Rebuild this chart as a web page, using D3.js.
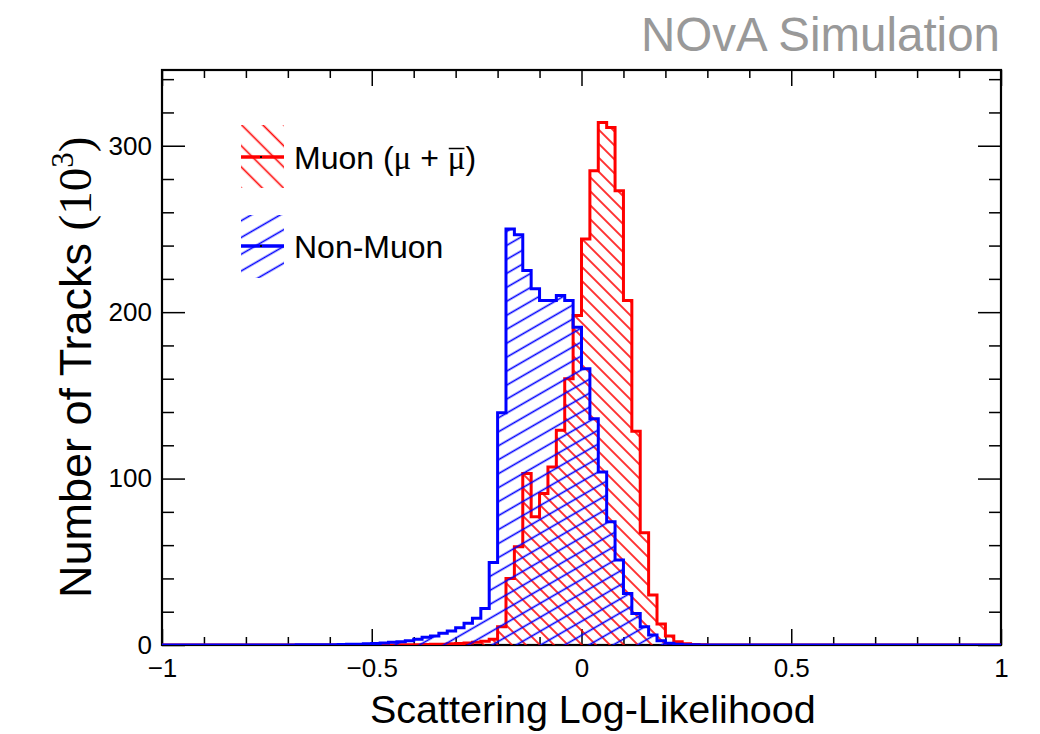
<!DOCTYPE html>
<html lang="en">
<head>
<meta charset="UTF-8">
<title>NOvA Simulation - Scattering Log-Likelihood</title>
<script src="https://d3js.org/d3.v7.min.js"></script>
<style>
  body { margin: 0; background: #fff; }
  svg { display: block; font-family: "Liberation Sans", Arial, sans-serif; }
</style>
</head>
<body>
<svg id="chart" width="1040" height="734"></svg>
<script>
// histogram: 100 bins of width 0.02 from -1 to 1 (values in 10^3 tracks)
const xMin = -1, xMax = 1, nBins = 100;

const muon = [
  0, 0, 0, 0, 0, 0, 0, 0, 0, 0,
  0, 0, 0, 0, 0, 0, 0, 0, 0, 0,
  0, 0, 0, 0, 0, 0, 0, 0, 0.1, 0.15,
  0.2, 0.3, 0.4, 0.5, 0.7, 0.9, 1.2, 1.6, 2.2, 3.4,
  11, 40, 59, 103, 77, 91, 107, 129, 160, 198,
  244, 285, 314, 311, 273, 207, 128.5, 67.5, 30, 12.6,
  5.4, 2, 0.8, 0.3, 0.1, 0, 0, 0, 0, 0,
  0, 0, 0, 0, 0, 0, 0, 0, 0, 0,
  0, 0, 0, 0, 0, 0, 0, 0, 0, 0,
  0, 0, 0, 0, 0, 0, 0, 0, 0, 0
];

const nonMuon = [
  0, 0, 0, 0, 0, 0, 0, 0, 0, 0,
  0.05, 0.05, 0.05, 0.05, 0.05, 0.05, 0.08, 0.1, 0.12, 0.15,
  0.2, 0.3, 0.4, 0.5, 0.7, 0.9, 1.2, 1.6, 2.0, 2.6,
  3.4, 4.6, 5.4, 7, 8.4, 10.4, 13, 16, 22, 49.5,
  139.5, 250, 246.5, 225, 214, 207, 207, 210, 207, 191,
  166, 136, 104, 74, 51, 31, 19, 11, 6, 2.6,
  1.0, 0.5, 0.2, 0.1, 0, 0, 0, 0, 0, 0,
  0, 0, 0, 0, 0, 0, 0, 0, 0, 0,
  0, 0, 0, 0, 0, 0, 0, 0, 0, 0,
  0, 0, 0, 0, 0, 0, 0, 0, 0, 0
];

const xMajor = [-1, -0.5, 0, 0.5, 1];
const xMajorLabels = ["\u22121", "\u22120.5", "0", "0.5", "1"];
const yMajor = [0, 100, 200, 300];
const yMajorLabels = ["0", "100", "200", "300"];
const yTop = 345.5;

const svg = d3.select("#chart");

const x = d3.scaleLinear().domain([xMin, xMax]).range([162, 1001]);
const y = d3.scaleLinear().domain([0, yTop]).range([645, 70]);
const binW = (xMax - xMin) / nBins;

// hatch patterns
const defs = svg.append("defs");
function hatch(id, color, angle, gap) {
    const p = defs.append("pattern")
        .attr("id", id)
        .attr("patternUnits", "userSpaceOnUse")
        .attr("width", 20).attr("height", gap)
        .attr("patternTransform", `rotate(${angle})`);
    p.append("line")
        .attr("x1", 0).attr("x2", 20)
        .attr("y1", gap / 2).attr("y2", gap / 2)
        .attr("stroke", color).attr("stroke-width", 1.6);
}
hatch("hatchRed", "#ff0000", 45, 9.9);
hatch("hatchBlue", "#0000ff", -30, 12.1);
hatch("legRed", "#ff0000", 45, 15);
hatch("legBlue", "#0000ff", -30, 14.5);

// frame and ticks first, histograms on top (ROOT order)
const axes = svg.append("g").attr("font-size", 26);
const xMinor = d3.range(-10, 11).map(k => k / 10).filter(v => !xMajor.includes(v));
const yMinor = d3.range(0, 18).map(k => k * 20).filter(v => !yMajor.includes(v));

function styleAxis(g) {
    g.select(".domain").remove();
    g.selectAll(".tick line").attr("stroke", "#000").attr("stroke-width", 1.5);
    g.selectAll("text").attr("fill", "#000").attr("font-size", 26)
        .attr("font-family", '"Liberation Sans", Arial, sans-serif');
}

axes.append("g").attr("transform", `translate(0,${y(0)})`)
    .call(d3.axisBottom(x).tickValues(xMajor).tickSize(-16).tickPadding(14)
        .tickFormat((d, i) => xMajorLabels[i]))
    .call(styleAxis);
axes.append("g").attr("transform", `translate(0,${y(0)})`)
    .call(d3.axisBottom(x).tickValues(xMinor).tickSize(-8).tickFormat(""))
    .call(styleAxis);
axes.append("g").attr("transform", `translate(0,${y(yTop)})`)
    .call(d3.axisTop(x).tickValues(xMajor).tickSize(-16).tickFormat(""))
    .call(styleAxis);
axes.append("g").attr("transform", `translate(0,${y(yTop)})`)
    .call(d3.axisTop(x).tickValues(xMinor).tickSize(-8).tickFormat(""))
    .call(styleAxis);

axes.append("g").attr("transform", `translate(${x(xMin)},0)`)
    .call(d3.axisLeft(y).tickValues(yMajor).tickSize(-23).tickPadding(10)
        .tickFormat((d, i) => yMajorLabels[i]))
    .call(styleAxis);
axes.append("g").attr("transform", `translate(${x(xMin)},0)`)
    .call(d3.axisLeft(y).tickValues(yMinor).tickSize(-12).tickFormat(""))
    .call(styleAxis);
axes.append("g").attr("transform", `translate(${x(xMax)},0)`)
    .call(d3.axisRight(y).tickValues(yMajor).tickSize(-23).tickFormat(""))
    .call(styleAxis);
axes.append("g").attr("transform", `translate(${x(xMax)},0)`)
    .call(d3.axisRight(y).tickValues(yMinor).tickSize(-12).tickFormat(""))
    .call(styleAxis);

svg.append("rect")
    .attr("x", x(xMin)).attr("y", y(yTop))
    .attr("width", x(xMax) - x(xMin)).attr("height", y(0) - y(yTop))
    .attr("fill", "none").attr("stroke", "#000").attr("stroke-width", 2.2);

defs.append("clipPath").attr("id", "frameClip")
    .append("rect")
    .attr("x", x(xMin)).attr("y", y(yTop))
    .attr("width", x(xMax) - x(xMin)).attr("height", y(0) - y(yTop));

function stepPath(vals) {
    let d = `M${x(xMin)},${y(0)}`;
    vals.forEach((v, i) => {
        const x0 = x(xMin + i * binW), x1 = x(xMin + (i + 1) * binW);
        d += `L${x0},${y(v)}L${x1},${y(v)}`;
    });
    d += `L${x(xMax)},${y(0)}`;
    return d;
}

const hists = svg.append("g").attr("clip-path", "url(#frameClip)");
[[muon, "#ff0000", "hatchRed"], [nonMuon, "#0000ff", "hatchBlue"]].forEach(([vals, col, pat]) => {
    hists.append("path")
        .attr("d", stepPath(vals) + "Z")
        .attr("fill", `url(#${pat})`)
        .attr("stroke", "none");
    hists.append("path")
        .attr("d", stepPath(vals))
        .attr("fill", "none")
        .attr("stroke", col)
        .attr("stroke-width", 3)
        .attr("stroke-linejoin", "miter");
});

// titles
svg.append("text")
    .attr("x", 1000).attr("y", 51)
    .attr("text-anchor", "end")
    .attr("font-size", 47.5)
    .attr("fill", "#999999")
    .text("NOvA Simulation");

svg.append("text")
    .attr("x", 370).attr("y", 723)
    .attr("font-size", 39.5)
    .attr("fill", "#000")
    .text("Scattering Log-Likelihood");

const yt = svg.append("text")
    .attr("transform", "translate(91,598) rotate(-90)")
    .attr("font-size", 45)
    .attr("fill", "#000");
yt.append("tspan").text("Number of Tracks ");
yt.append("tspan").attr("font-family", '"Liberation Serif", serif').attr("font-size", 47).text("(10");
yt.append("tspan").attr("font-family", '"Liberation Serif", serif')
    .attr("font-size", 31).attr("dy", -18).text("3");
yt.append("tspan").attr("font-family", '"Liberation Serif", serif').attr("font-size", 47)
    .attr("dy", 18).text(")");

// legend
const legend = svg.append("g");
const legendItems = [
    { color: "#ff0000", pat: "legRed", top: 125, mid: 157 },
    { color: "#0000ff", pat: "legBlue", top: 215, mid: 246 }
];
legendItems.forEach(it => {
    legend.append("rect")
        .attr("x", 241).attr("y", it.top).attr("width", 43).attr("height", 63)
        .attr("fill", `url(#${it.pat})`);
    legend.append("line")
        .attr("x1", 241).attr("x2", 284).attr("y1", it.mid).attr("y2", it.mid)
        .attr("stroke", it.color).attr("stroke-width", 3.5);
    legend.append("rect")
        .attr("x", 260).attr("y", it.mid - 1).attr("width", 2).attr("height", 2)
        .attr("fill", "#000");
});

const t1 = legend.append("text").attr("x", 294).attr("y", 169)
    .attr("font-size", 32).attr("fill", "#000");
t1.append("tspan").text("Muon (");
t1.append("tspan").attr("font-family", '"Liberation Serif", serif').attr("font-size", 33).text("\u03bc");
t1.append("tspan").text(" + ");
const muBar = t1.append("tspan").attr("font-family", '"Liberation Serif", serif').attr("font-size", 33).text("\u03bc");
t1.append("tspan").text(")");
const bb = muBar.node().getBBox();
legend.append("line")
    .attr("x1", bb.x + 1).attr("x2", bb.x + bb.width - 1)
    .attr("y1", 148.5).attr("y2", 148.5)
    .attr("stroke", "#000").attr("stroke-width", 1.5);

legend.append("text").attr("x", 294).attr("y", 258)
    .attr("font-size", 32).attr("fill", "#000")
    .text("Non-Muon");
</script>
</body>
</html>
